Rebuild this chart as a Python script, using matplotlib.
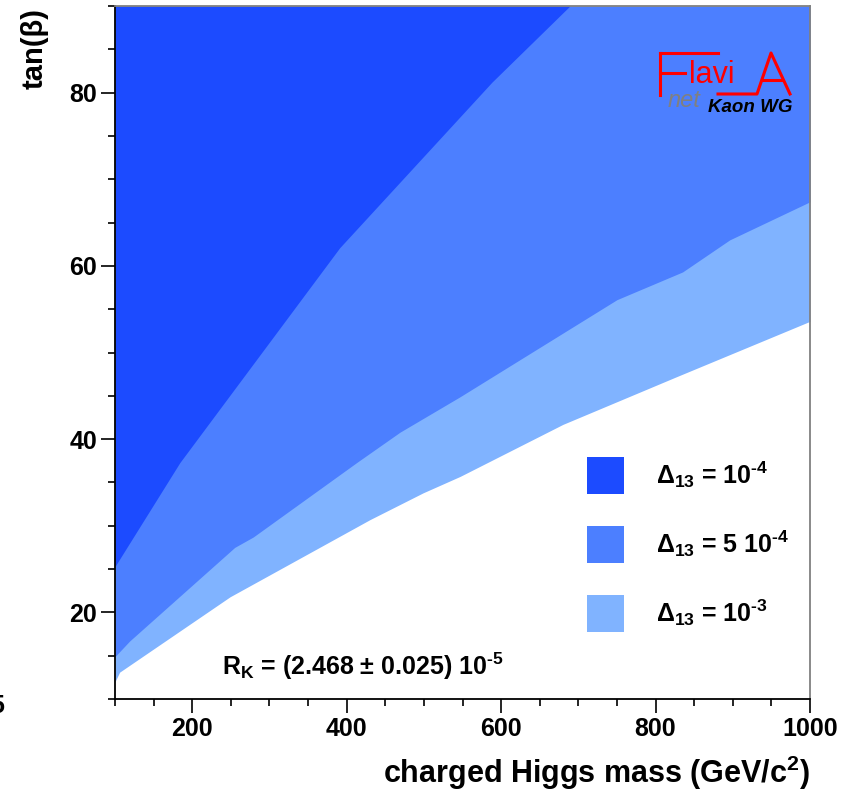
import matplotlib
matplotlib.use("Agg")
import matplotlib.pyplot as plt
from matplotlib.ticker import MultipleLocator, FixedLocator

plt.rcParams['font.family'] = ['Liberation Sans', 'DejaVu Sans']
plt.rcParams['font.weight'] = 'bold'
plt.rcParams['mathtext.fontset'] = 'custom'
plt.rcParams['mathtext.rm'] = 'Liberation Sans:bold'
plt.rcParams['mathtext.it'] = 'Liberation Sans:italic:bold'
plt.rcParams['mathtext.bf'] = 'Liberation Sans:bold'

# contour boundaries (charged Higgs mass in GeV, tan(beta))
mass_1e4 = [100, 184, 391, 588, 689]
tanb_1e4 = [25.3, 37.3, 62.1, 81.2, 90.0]

mass_5e4 = [100, 119, 255, 279, 413, 469, 547, 750, 835, 896, 1000]
tanb_5e4 = [14.9, 16.7, 27.5, 28.7, 37.3, 40.8, 44.9, 56.1, 59.3, 63.0, 67.4]

mass_1e3 = [100, 106, 249, 430, 499, 547, 680, 827, 1000]
tanb_1e3 = [12.0, 13.1, 21.8, 30.7, 33.8, 35.7, 41.7, 47.2, 53.6]

labels = ["$\\Delta_{13}$ = 10$^{\u20104}$", "$\\Delta_{13}$ = 5 10$^{\u20104}$", "$\\Delta_{13}$ = 10$^{\u20103}$"]
colors = ["#1c4bff", "#4c7fff", "#80b3ff"]

fig = plt.figure(figsize=(8.58, 7.92), dpi=100)
ax = fig.add_axes([115/858, 1 - 699/792, 695/858, 693/792])

# draw from the widest band to the narrowest so each sits on top
p3 = ax.fill_between(mass_1e3, tanb_1e3, 90, color=colors[2], lw=0, label=labels[2])
p2 = ax.fill_between(mass_5e4, tanb_5e4, 90, color=colors[1], lw=0, label=labels[1])
p1 = ax.fill_between(mass_1e4, tanb_1e4, 90, color=colors[0], lw=0, label=labels[0])

ax.set_xlim(100, 1000)
ax.set_ylim(10, 90)
ax.xaxis.set_major_locator(FixedLocator([200, 400, 600, 800, 1000]))
ax.xaxis.set_minor_locator(MultipleLocator(50))
ax.yaxis.set_major_locator(FixedLocator([20, 40, 60, 80]))
ax.yaxis.set_minor_locator(MultipleLocator(5))
ax.tick_params(which='major', length=10, width=1.2, labelsize=18, pad=3)
ax.tick_params(which='minor', length=5, width=1.2)
for s in ['left', 'bottom']:
    ax.spines[s].set_linewidth(1.3)
for s in ['top', 'right']:
    ax.spines[s].set_color('#808080')
    ax.spines[s].set_linewidth(1.3)

leg = ax.legend(handles=[p1, p2, p3], loc='upper left',
                bbox_to_anchor=(587/858, 1 - 457/792), bbox_transform=fig.transFigure,
                frameon=False, fontsize=18, handlelength=1.48, handleheight=1.9,
                handletextpad=1.3, labelspacing=1.28, borderpad=0, borderaxespad=0)

ax.text(222/858, 1 - 675/792, "R$_{\\mathrm{K}}$ = (2.468 ± 0.025) 10$^{\u20105}$",
        transform=fig.transFigure, fontsize=18, va='baseline')

fig.text(35/858, 1 - 8/792, "tan(β)", rotation=90, ha='center', va='top', fontsize=21)
fig.text(810/858, 1 - 773/792, "charged Higgs mass (GeV/c$^{2}$)", ha='right', va='center', fontsize=22)
fig.text(4/858, 1 - 706/792, "5", ha='right', va='center', fontsize=18)

# FlaviA net logo
def fx(px):
    return px / 858
def fy(py):
    return 1 - py / 792
red = "#ff0000"
lw = 2.2
fig.lines.append(plt.Line2D([fx(660), fx(660)], [fy(53), fy(95)], color=red, lw=lw, transform=fig.transFigure))
fig.lines.append(plt.Line2D([fx(660), fx(718)], [fy(53), fy(53)], color=red, lw=lw, transform=fig.transFigure))
fig.lines.append(plt.Line2D([fx(660), fx(685)], [fy(73), fy(73)], color=red, lw=lw, transform=fig.transFigure))
fig.lines.append(plt.Line2D([fx(718), fx(757), fx(771), fx(790)], [fy(94), fy(94), fy(53), fy(94)],
                            color=red, lw=lw, transform=fig.transFigure))
fig.lines.append(plt.Line2D([fx(762), fx(781)], [fy(80), fy(80)], color=red, lw=lw, transform=fig.transFigure))
fig.text(fx(689), fy(83), "lavi", color=red, fontsize=22, fontweight='normal', va='baseline')
fig.text(fx(668), fy(107), "net", color='#808080', fontsize=17, fontweight='normal', style='italic', va='baseline')
fig.text(fx(708), fy(112), "Kaon WG", color='black', fontsize=13.5, style='italic', va='baseline')

fig.savefig("out.png", dpi=100)
